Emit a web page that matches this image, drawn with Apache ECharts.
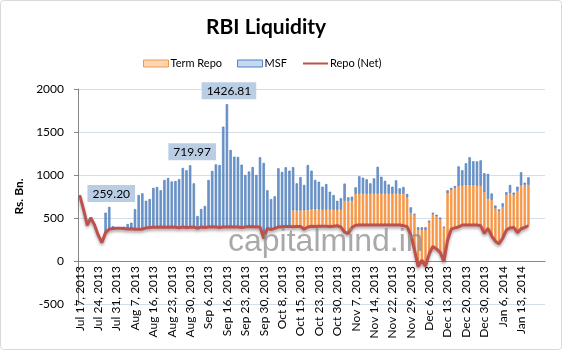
<!DOCTYPE html>
<html>
<head>
<meta charset="utf-8">
<title>RBI Liquidity</title>
<script src="https://cdn.jsdelivr.net/npm/echarts@6/dist/echarts.min.js"></script>
<style>
    html, body { margin: 0; padding: 0; background: #fff; }
    #chart { width: 562px; height: 350px; }
</style>
</head>
<body>
<div id="chart"></div>
<script>
// business days, one label shown every 5th
var categories = [
    'Jul 17, 2013', 'Jul 18, 2013', 'Jul 19, 2013', 'Jul 22, 2013', 'Jul 23, 2013',
    'Jul 24, 2013', 'Jul 25, 2013', 'Jul 26, 2013', 'Jul 29, 2013', 'Jul 30, 2013',
    'Jul 31, 2013', 'Aug 1, 2013', 'Aug 2, 2013', 'Aug 5, 2013', 'Aug 6, 2013',
    'Aug 7, 2013', 'Aug 8, 2013', 'Aug 12, 2013', 'Aug 13, 2013', 'Aug 14, 2013',
    'Aug 16, 2013', 'Aug 19, 2013', 'Aug 20, 2013', 'Aug 21, 2013', 'Aug 22, 2013',
    'Aug 23, 2013', 'Aug 26, 2013', 'Aug 27, 2013', 'Aug 28, 2013', 'Aug 29, 2013',
    'Aug 30, 2013', 'Sep 2, 2013', 'Sep 3, 2013', 'Sep 4, 2013', 'Sep 5, 2013',
    'Sep 6, 2013', 'Sep 10, 2013', 'Sep 11, 2013', 'Sep 12, 2013', 'Sep 13, 2013',
    'Sep 16, 2013', 'Sep 17, 2013', 'Sep 18, 2013', 'Sep 19, 2013', 'Sep 20, 2013',
    'Sep 23, 2013', 'Sep 24, 2013', 'Sep 25, 2013', 'Sep 26, 2013', 'Sep 27, 2013',
    'Sep 30, 2013', 'Oct 1, 2013', 'Oct 3, 2013', 'Oct 4, 2013', 'Oct 7, 2013',
    'Oct 8, 2013', 'Oct 9, 2013', 'Oct 10, 2013', 'Oct 11, 2013', 'Oct 14, 2013',
    'Oct 15, 2013', 'Oct 17, 2013', 'Oct 18, 2013', 'Oct 21, 2013', 'Oct 22, 2013',
    'Oct 23, 2013', 'Oct 24, 2013', 'Oct 25, 2013', 'Oct 28, 2013', 'Oct 29, 2013',
    'Oct 30, 2013', 'Oct 31, 2013', 'Nov 1, 2013', 'Nov 5, 2013', 'Nov 6, 2013',
    'Nov 7, 2013', 'Nov 8, 2013', 'Nov 11, 2013', 'Nov 12, 2013', 'Nov 13, 2013',
    'Nov 14, 2013', 'Nov 18, 2013', 'Nov 19, 2013', 'Nov 20, 2013', 'Nov 21, 2013',
    'Nov 22, 2013', 'Nov 25, 2013', 'Nov 26, 2013', 'Nov 27, 2013', 'Nov 28, 2013',
    'Nov 29, 2013', 'Dec 2, 2013', 'Dec 3, 2013', 'Dec 4, 2013', 'Dec 5, 2013',
    'Dec 6, 2013', 'Dec 9, 2013', 'Dec 10, 2013', 'Dec 11, 2013', 'Dec 12, 2013',
    'Dec 13, 2013', 'Dec 16, 2013', 'Dec 17, 2013', 'Dec 18, 2013', 'Dec 19, 2013',
    'Dec 20, 2013', 'Dec 23, 2013', 'Dec 24, 2013', 'Dec 26, 2013', 'Dec 27, 2013',
    'Dec 30, 2013', 'Dec 31, 2013', 'Jan 1, 2014', 'Jan 2, 2014', 'Jan 3, 2014',
    'Jan 6, 2014', 'Jan 7, 2014', 'Jan 8, 2014', 'Jan 9, 2014', 'Jan 10, 2014',
    'Jan 13, 2014', 'Jan 14, 2014', 'Jan 15, 2014', 'Jan 16, 2014', 'Jan 17, 2014',
    'Jan 20, 2014', 'Jan 21, 2014'
];
// last date that still gets a tick label
var lastLabelled = 'Jan 13, 2014';

// Rs. Bn.
var repoNet = [
    760, 600, 420, 500, 420, 300, 215, 330, 370, 378,
    380, 380, 378, 372, 375, 370, 368, 370, 385, 390,
    392, 392, 395, 392, 392, 395, 392, 385, 395, 390,
    393, 395, 380, 395, 390, 395, 398, 395, 390, 395,
    396, 398, 395, 395, 390, 395, 400, 398, 395, 395,
    265, 380, 365, 380, 395, 398, 400, 400, 398, 400,
    402, 370, 395, 405, 400, 405, 405, 405, 400, 405,
    410, 395, 335, 320, 390, 415, 418, 418, 418, 418,
    418, 418, 418, 418, 418, 418, 418, 418, 410, 400,
    300, 130, -65, 10, -60, 80, 170, 140, 100, -5,
    240, 370, 385, 395, 418, 418, 418, 418, 418, 410,
    320, 380, 290, 230, 200, 265, 360, 385, 390, 330,
    375, 390, 410
];

var termRepo = [
    0, 0, 0, 0, 0, 0, 0, 0, 0, 0,
    0, 0, 0, 0, 0, 0, 0, 0, 0, 0,
    0, 0, 0, 0, 0, 0, 0, 0, 0, 0,
    0, 0, 0, 0, 0, 0, 0, 0, 0, 0,
    0, 0, 0, 0, 0, 0, 0, 0, 0, 0,
    0, 0, 0, 0, 0, 0, 0, 0, 190, 188,
    186, 218, 195, 195, 200, 195, 190, 190, 195, 190,
    185, 200, 365, 380, 310, 365, 362, 362, 362, 362,
    362, 362, 362, 362, 362, 362, 362, 362, 370, 340,
    260, 410, 425, 350, 420, 375, 375, 380, 390, 390,
    546, 457, 462, 475, 457, 462, 462, 462, 457, 465,
    480, 340, 420, 380, 380, 366, 410, 405, 380, 485,
    505, 495, 475
];

var msf = [
    0, 0, 0, 0, 0, 0, 0, 232, 259.20, 27,
    5, 10, 22, 58, 70, 233, 399, 417, 315, 331,
    458, 468, 427, 550, 573, 530, 538, 567, 687, 665,
    719.97, 508, 143, 210, 250, 547, 649, 729, 726, 1167,
    1426.81, 893, 818, 815, 730, 605, 640, 694, 605, 811,
    875, 442, 355, 372, 683, 637, 690, 650, 504, 315,
    387, 296, 526, 450, 342, 322, 269, 300, 211, 172,
    105, 135, 200, 40, 48, 77, 205, 189, 170, 123,
    181, 315, 200, 152, 110, 84, 158, 65, 80, 40,
    64, 10, 32, 32, 32, 15, 17, 17, 15, 15,
    36, 23, 25, 230, 180, 256, 326, 280, 283, 295,
    220, 292, 75, 35, 20, 40, 30, 94, 25, 49,
    152, 26, 88
];

// MSF bars that carry a value box
var labelledDates = ['Jul 29, 2013', 'Aug 30, 2013', 'Sep 16, 2013'];

var yMin = -500;
var yMax = 2000;
var gridTop = 89;
var gridBottom = 46;
var chartHeight = 350;

var font = 'Lato, "Open Sans", sans-serif';

function buildMsfData() {
    var out = [];
    for (var i = 0; i < msf.length; i++) {
        if (labelledDates.indexOf(categories[i]) >= 0) {
            out.push({ value: msf[i], label: { show: true } });
        } else {
            out.push(msf[i]);
        }
    }
    return out;
}

var lastLabelIndex = categories.indexOf(lastLabelled);
// category axis sits on the zero line, not on the grid bottom
var plotHeight = chartHeight - gridTop - gridBottom;
var zeroOffset = -Math.round((0 - yMin) / (yMax - yMin) * plotHeight);

var chart = echarts.init(document.getElementById('chart'));

var option = {
    backgroundColor: '#fff',
    animation: false,
    title: {
        text: 'RBI Liquidity',
        left: 201,
        top: 12,
        textStyle: { fontSize: 21, fontWeight: 'bold', color: '#000', fontFamily: font }
    },
    legend: {
        left: 143,
        top: 58,
        padding: 0,
        itemWidth: 25,
        itemHeight: 7,
        itemGap: 15,
        textStyle: { fontSize: 11, color: '#000', fontFamily: font, padding: [0, 0, 0, -3] },
        data: [
            { name: 'Term Repo', icon: 'rect', itemStyle: { color: '#fcd5b5', borderColor: '#f79646', borderWidth: 1 } },
            { name: 'MSF', icon: 'rect', itemStyle: { color: '#c6d9f1', borderColor: '#4f81bd', borderWidth: 1 } },
            { name: 'Repo (Net)', itemStyle: { opacity: 0 } }
        ]
    },
    grid: { left: 78, right: 17, top: gridTop, bottom: gridBottom, outerBoundsMode: 'none' },
    xAxis: {
        type: 'category',
        data: categories,
        boundaryGap: true,
        offset: zeroOffset,
        axisLine: { onZero: false, lineStyle: { color: '#868686' } },
        axisTick: { interval: 0, length: 4, lineStyle: { color: '#868686' } },
        axisLabel: {
            interval: function (index) {
                return index % 5 === 0 && index <= lastLabelIndex;
            },
            rotate: 90,
            fontSize: 12,
            color: '#000',
            margin: 5,
            fontFamily: font
        },
        splitLine: { show: false }
    },
    yAxis: {
        type: 'value',
        min: yMin,
        max: yMax,
        interval: 500,
        name: 'Rs. Bn.',
        nameLocation: 'middle',
        nameGap: 46,
        nameRotate: 90,
        nameTextStyle: { fontWeight: 'bold', fontSize: 12, color: '#000', fontFamily: font },
        axisLine: { show: true, lineStyle: { color: '#868686' } },
        axisTick: { show: true, length: 4, lineStyle: { color: '#868686' } },
        axisLabel: {
            color: '#000',
            fontSize: 12,
            margin: 14,
            fontFamily: font,
            formatter: function (v) {
                return String(v);
            }
        },
        splitLine: { lineStyle: { color: '#d3deea' } }
    },
    series: [
        {
            // invisible base so the bars sit on top of the net repo level
            name: 'base',
            type: 'bar',
            stack: 'liq',
            stackStrategy: 'all',
            barWidth: '64%',
            silent: true,
            itemStyle: { color: 'rgba(0,0,0,0)' },
            data: repoNet
        },
        {
            name: 'Term Repo',
            type: 'bar',
            stack: 'liq',
            stackStrategy: 'all',
            barWidth: '64%',
            itemStyle: { color: '#f89a4e', borderColor: '#f5892f', borderWidth: 0.6 },
            data: termRepo
        },
        {
            name: 'MSF',
            type: 'bar',
            stack: 'liq',
            stackStrategy: 'all',
            barWidth: '64%',
            itemStyle: { color: '#7099cf', borderColor: '#4475b4', borderWidth: 0.6 },
            label: {
                show: false,
                position: 'top',
                distance: 5,
                offset: [2, 0],
                color: '#000',
                fontSize: 12,
                fontFamily: font,
                backgroundColor: '#b9cde5',
                padding: [3, 5, 2, 5],
                formatter: function (p) {
                    return p.value.toFixed(2);
                }
            },
            data: buildMsfData()
        },
        {
            name: 'Repo (Net)',
            type: 'line',
            symbol: 'none',
            z: 5,
            lineStyle: {
                color: '#c0504d',
                width: 3,
                shadowColor: 'rgba(0,0,0,0.35)',
                shadowBlur: 3,
                shadowOffsetY: 2
            },
            itemStyle: { color: '#c0504d' },
            data: repoNet
        }
    ],
    graphic: [
        {
            type: 'rect',
            silent: true,
            shape: { x: 0.5, y: 0.5, width: 561, height: 349, r: 3 },
            style: { fill: 'none', stroke: '#d9d9d9', lineWidth: 1 }
        },
        {
            type: 'text',
            left: 228,
            top: 226,
            z: 100,
            silent: true,
            style: {
                text: 'capitalmind.in',
                font: '32px "Liberation Sans", Arial, sans-serif',
                fill: 'rgba(140,140,140,0.75)'
            }
        }
    ]
};

chart.setOption(option);
</script>
</body>
</html>
